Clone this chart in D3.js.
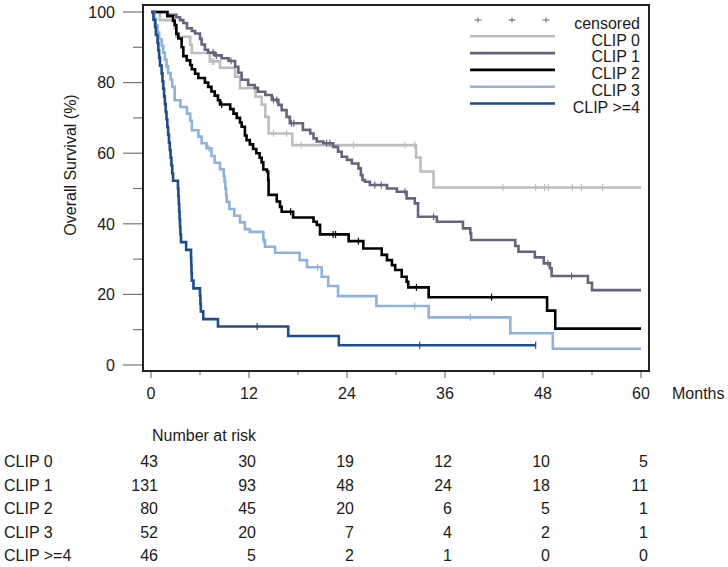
<!DOCTYPE html>
<html>
<head>
<meta charset="utf-8">
<script src="https://cdn.jsdelivr.net/npm/d3@7"></script>
<style>
  html, body { margin: 0; padding: 0; background: #fff; }
  svg { display: block; font-family: "Liberation Sans", Arial, sans-serif; }
</style>
</head>
<body>
<svg id="chart" width="728" height="567"></svg>
<script>
// ---------------- DATA ----------------
const groupNames = ["CLIP 0", "CLIP 1", "CLIP 2", "CLIP 3", "CLIP >=4"];
const groupColors = ["#bdbdbd", "#64647c", "#000000", "#8fb1da", "#1f4d8c"];
const xTickValues = [0, 12, 24, 36, 48, 60];
const yTickValues = [0, 20, 40, 60, 80, 100];

// Kaplan-Meier steps: [month, survival % after the event]
const stepsClip0 = [[0,100],[1.1,97.7],[2.9,95.3],[3.1,93.0],[4.8,90.7],[5.0,88.4],[7.2,86.0],[8.45,84.2],[10.3,81.7],[10.9,78.4],[12.8,76.0],[13.55,73.8],[14.0,70.3],[14.4,65.6],[17.3,62.3],[32.45,58.8],[33.0,54.8],[34.6,50.3]];
const stepsClip1 = [[0,100],[2.0,99.2],[3.1,98.5],[3.55,97.7],[3.96,96.9],[4.4,95.4],[5.0,94.6],[5.4,93.9],[6.0,92.4],[6.2,90.8],[6.6,89.3],[7.0,88.5],[7.8,87.7],[8.65,86.9],[9.5,86.1],[10.3,84.5],[10.7,82.8],[11.1,80.8],[11.9,79.3],[12.7,78.5],[13.1,77.4],[14.0,76.5],[14.8,75.1],[15.6,73.7],[16.0,72.2],[16.6,70.3],[17.0,68.5],[18.6,66.6],[19.5,65.6],[19.9,64.2],[20.3,63.3],[21.1,62.8],[22.3,61.8],[22.9,60.4],[23.35,59.0],[24.0,58.1],[24.6,57.1],[25.4,55.7],[25.7,53.8],[25.9,52.4],[26.2,51.9],[26.8,51.0],[28.9,50.0],[30.1,49.1],[31.3,47.2],[32.3,45.8],[32.7,42.0],[35.0,40.6],[38.2,38.7],[39.1,37.3],[39.2,35.4],[44.6,33.7],[45.0,32.1],[47.0,30.5],[48.1,28.8],[48.85,27.4],[49.05,25.2],[53.5,23.3],[54.0,21.2]];
const stepsClip2 = [[0,100],[2.0,98.8],[2.7,97.5],[2.9,96.3],[3.1,93.8],[3.35,92.5],[3.75,90.0],[3.96,87.5],[4.37,86.3],[4.8,85.0],[5.0,83.8],[5.4,82.5],[5.8,81.3],[6.6,80.0],[7.0,78.8],[7.4,77.5],[7.8,76.3],[8.2,75.0],[8.45,73.8],[9.7,72.5],[10.1,71.2],[10.5,70.0],[10.9,68.7],[11.1,67.5],[11.5,65.0],[11.7,63.7],[12.1,62.5],[12.5,61.2],[12.9,60.0],[13.3,58.7],[13.55,57.4],[13.75,55.4],[14.2,54.8],[14.35,52.4],[14.4,48.2],[15.4,46.3],[15.8,44.8],[16.0,43.4],[17.4,41.8],[19.9,40.6],[20.3,39.7],[20.7,37.0],[24.2,35.1],[26.0,33.0],[28.25,31.2],[28.9,29.7],[29.5,28.3],[29.9,26.9],[30.7,25.0],[31.3,23.6],[31.5,22.0],[34.0,19.2],[48.5,15.4],[49.5,10.3]];
const stepsClip3 = [[0,100],[0.4,98.1],[0.6,96.2],[0.8,94.2],[1.0,92.3],[1.3,90.4],[1.5,88.5],[1.7,86.5],[1.9,84.6],[2.1,82.7],[2.4,80.8],[2.6,78.8],[2.9,75.0],[3.6,73.1],[4.4,71.2],[4.8,69.2],[5.0,66.5],[5.8,64.7],[6.2,62.8],[6.8,61.4],[7.4,59.2],[7.8,57.3],[8.45,55.5],[8.9,53.6],[9.0,51.9],[9.1,50.0],[9.2,48.1],[9.27,46.2],[9.6,44.2],[10.2,42.3],[10.9,40.4],[11.5,38.5],[12.1,37.7],[13.75,35.4],[13.96,33.5],[15.2,31.8],[18.2,29.7],[19.1,27.7],[20.9,25.0],[21.7,22.4],[22.9,19.5],[27.6,16.7],[34.0,13.5],[44.0,9.0],[49.2,4.6]];
const stepsClip4 = [[0,100],[0.3,97.8],[0.5,95.7],[0.6,93.5],[0.8,91.3],[0.9,89.1],[1.0,87.0],[1.1,84.8],[1.3,82.6],[1.4,80.4],[1.5,78.3],[1.6,76.1],[1.7,73.9],[1.8,71.7],[1.9,69.6],[2.0,67.4],[2.1,65.2],[2.2,63.0],[2.3,60.9],[2.4,58.7],[2.5,56.5],[2.6,54.3],[2.7,52.2],[3.3,50.0],[3.35,47.8],[3.4,45.7],[3.45,43.5],[3.5,41.3],[3.55,39.1],[3.6,37.0],[3.67,34.8],[4.3,32.6],[4.9,30.4],[4.93,28.3],[4.96,26.1],[5.0,23.9],[5.2,21.7],[6.0,19.6],[6.05,17.4],[6.1,15.2],[6.4,13.0],[8.2,10.9],[16.8,8.2],[23.0,5.6]];

// last follow-up time per group
const followUpEnd = [60, 60, 60, 60, 47.1];

// censoring times (months)
const censorClip0 = [7.5, 7.7, 15.0, 16.6, 18.4, 24.8, 31.1, 32.3, 43.1, 47.1, 48.2, 48.65, 51.6, 52.7, 55.3];
const censorClip1 = [7.6, 8.0, 9.8, 15.0, 15.4, 17.2, 17.5, 21.5, 21.9, 27.4, 28.2, 31.1, 34.6, 48.6, 51.5];
const censorClip2 = [8.65, 17.1, 22.3, 22.6, 25.4, 32.5, 41.7];
const censorClip3 = [7.1, 13.8, 20.4, 32.3, 39.1];
const censorClip4 = [13.0, 32.9, 47.1];

// number at risk at 0,12,24,36,48,60 months
const riskClip0 = [43, 30, 19, 12, 10, 5];
const riskClip1 = [131, 93, 48, 24, 18, 11];
const riskClip2 = [80, 45, 20, 6, 5, 1];
const riskClip3 = [52, 20, 7, 4, 2, 1];
const riskClip4 = [46, 5, 2, 1, 0, 0];

// ---------------- DRAW ----------------
const allSteps = [stepsClip0, stepsClip1, stepsClip2, stepsClip3, stepsClip4];
const allCensor = [censorClip0, censorClip1, censorClip2, censorClip3, censorClip4];
const allRisk = [riskClip0, riskClip1, riskClip2, riskClip3, riskClip4];

const svg = d3.select("#chart");
const x = d3.scaleLinear().domain([0, 60]).range([151, 641]);
const y = d3.scaleLinear().domain([0, 100]).range([365, 12]);
const frame = {left: 143, right: 649, top: 5, bottom: 371};
const txt = "#1a1a1a";

// y ticks (outward, left of frame)
const yMinor = d3.range(10, 100, 20);
svg.append("g").selectAll("line.ymaj").data(yTickValues).join("line")
  .attr("x1", frame.left - 20).attr("x2", frame.left)
  .attr("y1", d => y(d)).attr("y2", d => y(d))
  .attr("stroke", "#777").attr("stroke-width", 1.2);
svg.append("g").selectAll("line.ymin").data(yMinor).join("line")
  .attr("x1", frame.left - 10).attr("x2", frame.left)
  .attr("y1", d => y(d)).attr("y2", d => y(d))
  .attr("stroke", "#777").attr("stroke-width", 1.2);
svg.append("g").selectAll("text").data(yTickValues).join("text")
  .attr("x", 115).attr("y", d => y(d)).attr("dy", "0.36em")
  .attr("text-anchor", "end").attr("font-size", 16).attr("fill", txt)
  .text(d => d);

// x ticks (outward, below frame)
const xMinor = d3.range(6, 60, 12);
svg.append("g").selectAll("line").data(xTickValues).join("line")
  .attr("x1", d => x(d)).attr("x2", d => x(d))
  .attr("y1", frame.bottom).attr("y2", frame.bottom + 7)
  .attr("stroke", "#777").attr("stroke-width", 1.2);
svg.append("g").selectAll("line").data(xMinor).join("line")
  .attr("x1", d => x(d)).attr("x2", d => x(d))
  .attr("y1", frame.bottom).attr("y2", frame.bottom + 4)
  .attr("stroke", "#777").attr("stroke-width", 1.2);
svg.append("g").selectAll("text").data(xTickValues).join("text")
  .attr("x", d => x(d)).attr("y", 393).attr("dy", "0.36em")
  .attr("text-anchor", "middle").attr("font-size", 16).attr("fill", txt)
  .text(d => d);
svg.append("text").attr("x", 672).attr("y", 393).attr("dy", "0.36em")
  .attr("font-size", 16).attr("fill", txt).text("Months");

// y label
svg.append("text")
  .attr("transform", "translate(70,165) rotate(-90)")
  .attr("text-anchor", "middle").attr("dy", "0.36em")
  .attr("font-size", 16).attr("fill", txt).text("Overall Survival (%)");

// curves
const line = d3.line().x(d => x(d[0])).y(d => y(d[1])).curve(d3.curveStepAfter);
const bis = d3.bisector(d => d[0]).right;
allSteps.forEach((steps, i) => {
  const pts = steps.concat([[followUpEnd[i], steps[steps.length - 1][1]]]);
  svg.append("path").datum(pts)
    .attr("d", line).attr("fill", "none")
    .attr("stroke", groupColors[i]).attr("stroke-width", 2.6);
  svg.append("g").selectAll("line").data(allCensor[i]).join("line")
    .attr("x1", d => x(d)).attr("x2", d => x(d))
    .attr("y1", d => y(steps[bis(steps, d) - 1][1]) - 3.5)
    .attr("y2", d => y(steps[bis(steps, d) - 1][1]) + 3.5)
    .attr("stroke", groupColors[i]).attr("stroke-width", 1.2);
});

// frame
svg.append("rect")
  .attr("x", frame.left).attr("y", frame.top)
  .attr("width", frame.right - frame.left).attr("height", frame.bottom - frame.top)
  .attr("fill", "none").attr("stroke", "#222").attr("stroke-width", 2);

// legend
const legRight = 640, legTop = 23, legStep = 16.8;
svg.append("text").attr("x", legRight).attr("y", legTop).attr("dy", "0.36em")
  .attr("text-anchor", "end").attr("font-size", 16).attr("fill", txt).text("censored");
[478, 512, 546].forEach(px => {
  svg.append("line").attr("x1", px - 3.5).attr("x2", px + 3.5).attr("y1", legTop - 3).attr("y2", legTop - 3)
    .attr("stroke", "#666").attr("stroke-width", 1);
  svg.append("line").attr("x1", px).attr("x2", px).attr("y1", legTop - 5.5).attr("y2", legTop - 0.5)
    .attr("stroke", "#666").attr("stroke-width", 1);
});
groupNames.forEach((g, i) => {
  const cy = legTop + legStep * (i + 1);
  svg.append("line").attr("x1", 470).attr("x2", 555).attr("y1", cy - 3.5).attr("y2", cy - 3.5)
    .attr("stroke", groupColors[i]).attr("stroke-width", 2.6);
  svg.append("text").attr("x", legRight).attr("y", cy).attr("dy", "0.36em")
    .attr("text-anchor", "end").attr("font-size", 16).attr("fill", txt).text(g);
});

// number at risk table
svg.append("text").attr("x", 152).attr("y", 435).attr("dy", "0.36em")
  .attr("font-size", 16).attr("fill", txt).text("Number at risk");
const rowY = d3.scaleLinear().domain([0, 4]).range([461.5, 555.5]);
groupNames.forEach((g, i) => {
  svg.append("text").attr("x", 4).attr("y", rowY(i)).attr("dy", "0.36em")
    .attr("font-size", 16).attr("fill", txt).text(g);
  svg.append("g").selectAll("text").data(allRisk[i]).join("text")
    .attr("x", (d, j) => x(xTickValues[j]) + 7).attr("y", rowY(i)).attr("dy", "0.36em")
    .attr("text-anchor", "end").attr("font-size", 16).attr("fill", txt)
    .text(d => d);
});
</script>
</body>
</html>
